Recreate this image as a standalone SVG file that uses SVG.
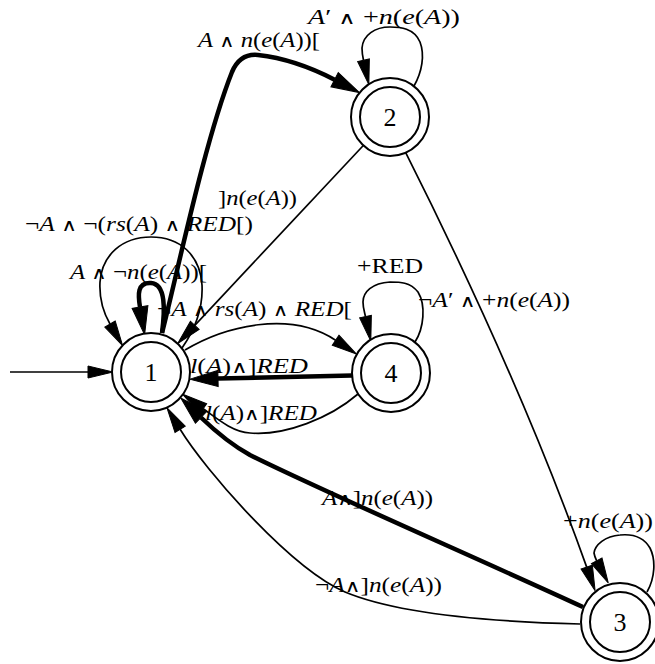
<svg xmlns="http://www.w3.org/2000/svg" width="655" height="664" viewBox="0 0 655 664">
<style>
.e{fill:none;stroke:#000;stroke-width:1.7}
.t{fill:none;stroke:#000;stroke-width:4.5}
.n circle{fill:#fff;stroke:#000;stroke-width:2}
.n text{font-family:"Liberation Serif",serif;font-size:26px;text-anchor:middle}
.l{font-family:"Liberation Serif",serif;font-size:20px;font-style:italic}
.l tspan.u{font-style:normal}
.l tspan.o{font-style:normal;font-family:"DejaVu Serif",serif;font-size:17px}
</style>
<defs>
<marker id="a" markerUnits="userSpaceOnUse" markerWidth="30" markerHeight="16" refX="0" refY="8" orient="auto" overflow="visible"><path d="M0,2 L25,8 L0,14 z" fill="#000" stroke="#000" stroke-width="1"/></marker>
<marker id="b" markerUnits="userSpaceOnUse" markerWidth="32" markerHeight="20" refX="0" refY="10" orient="auto" overflow="visible"><path d="M0,2 L28,10 L0,18 z" fill="#000" stroke="#000" stroke-width="1"/></marker>
</defs>
<g id="edges">
<path class="e" d="M10,372 L88,372" marker-end="url(#a)"/>
<path class="t" d="M162,333 C178,270 205,140 232,72 C238,58 248,54 258,55 C285,58 312,68 334.6,79.7" marker-end="url(#b)"/>
<path class="e" d="M414,86 C422,72 425,55 420,42 C414,28 400,27 390,27 C375,27 363,35 362,48 C362,53 362.8,57 363.5,60.2" marker-end="url(#a)"/>
<path class="e" d="M363.3,145.5 L194.8,325.3" marker-end="url(#a)"/>
<path class="e" d="M405.7,152.7 Q520,380 586.7,567.1" marker-end="url(#a)"/>
<path class="e" d="M647,592 C655,578 656,560 650,548 C643,536 630,534 620,535 C605,536 595,545 594,553 C594.5,556 595.5,558.5 596.7,560.8" marker-end="url(#a)"/>
<path class="t" d="M162,333 C165,310 166,284 151,283 C137,282 138,295 140,307" marker-end="url(#b)"/>
<path class="e" d="M182,348 C198,325 203,305 202,285 C200,255 180,237 151,237 C122,237 102,255 100,282 C99,300 103,312 110,324" marker-end="url(#a)"/>
<path class="e" d="M185,350 C225,326 290,310 335.6,340.2" marker-end="url(#a)"/>
<path class="e" d="M415,342 C424,328 426,305 418,292 C410,282 400,282 390,282 C372,283 363,292 363,302 C363,308 364.5,312 365.5,316.6" marker-end="url(#a)"/>
<path class="t" d="M352,375.5 L218,378.5" marker-end="url(#b)"/>
<path class="e" d="M358,394 C330,418 285,436 250,433 C232,432 215,417 203.2,408.7" marker-end="url(#a)"/>
<path class="t" d="M583,607 C470,555 320,490 250,455 C230,444 214,430 201,417.5" marker-end="url(#b)"/>
<path class="e" d="M580,624 C500,622 400,615 345,592 C290,568 205,470 180.1,429.3" marker-end="url(#a)"/>
</g>
<g id="labels" class="l">
<text x="308" y="24" textLength="152" lengthAdjust="spacingAndGlyphs">A<tspan class="u">′ </tspan><tspan class="o">∧</tspan><tspan class="u"> +</tspan>n<tspan class="u">(</tspan>e<tspan class="u">(</tspan>A<tspan class="u">))</tspan></text>
<text x="198" y="47" textLength="122" lengthAdjust="spacingAndGlyphs">A<tspan class="u"> </tspan><tspan class="o">∧</tspan><tspan class="u"> </tspan>n<tspan class="u">(</tspan>e<tspan class="u">(</tspan>A<tspan class="u">))[</tspan></text>
<text x="218" y="205" textLength="79" lengthAdjust="spacingAndGlyphs"><tspan class="u">]</tspan>n<tspan class="u">(</tspan>e<tspan class="u">(</tspan>A<tspan class="u">))</tspan></text>
<text x="25" y="231" textLength="228" lengthAdjust="spacingAndGlyphs"><tspan class="u">¬</tspan>A<tspan class="u"> </tspan><tspan class="o">∧</tspan><tspan class="u"> ¬(</tspan>rs<tspan class="u">(</tspan>A<tspan class="u">) </tspan><tspan class="o">∧</tspan><tspan class="u"> </tspan>RED<tspan class="u">[)</tspan></text>
<text x="70" y="279" textLength="137" lengthAdjust="spacingAndGlyphs">A<tspan class="u"> </tspan><tspan class="o">∧</tspan><tspan class="u"> ¬</tspan>n<tspan class="u">(</tspan>e<tspan class="u">(</tspan>A<tspan class="u">))[</tspan></text>
<text x="157" y="316" textLength="195" lengthAdjust="spacingAndGlyphs"><tspan class="u">¬</tspan>A<tspan class="u"> </tspan><tspan class="o">∧</tspan><tspan class="u"> </tspan>rs<tspan class="u">(</tspan>A<tspan class="u">) </tspan><tspan class="o">∧</tspan><tspan class="u"> </tspan>RED<tspan class="u">[</tspan></text>
<text x="357" y="273" textLength="66" lengthAdjust="spacingAndGlyphs" style="font-style:normal;font-size:22px">+RED</text>
<text x="418" y="307" textLength="152" lengthAdjust="spacingAndGlyphs"><tspan class="u">¬</tspan>A<tspan class="u">′ </tspan><tspan class="o">∧</tspan><tspan class="u"> +</tspan>n<tspan class="u">(</tspan>e<tspan class="u">(</tspan>A<tspan class="u">))</tspan></text>
<text x="190" y="373" textLength="118" lengthAdjust="spacingAndGlyphs">l<tspan class="u">(</tspan>A<tspan class="u">)</tspan><tspan class="o">∧</tspan><tspan class="u">]</tspan>RED</text>
<text x="205" y="420" textLength="112" lengthAdjust="spacingAndGlyphs">l<tspan class="u">(</tspan>A<tspan class="u">)</tspan><tspan class="o">∧</tspan><tspan class="u">]</tspan>RED</text>
<text x="322" y="505" textLength="111" lengthAdjust="spacingAndGlyphs">A<tspan class="o">∧</tspan><tspan class="u">]</tspan>n<tspan class="u">(</tspan>e<tspan class="u">(</tspan>A<tspan class="u">))</tspan></text>
<text x="315" y="592" textLength="127" lengthAdjust="spacingAndGlyphs"><tspan class="u">¬</tspan>A<tspan class="o">∧</tspan><tspan class="u">]</tspan>n<tspan class="u">(</tspan>e<tspan class="u">(</tspan>A<tspan class="u">))</tspan></text>
<text x="563" y="528" textLength="90" lengthAdjust="spacingAndGlyphs"><tspan class="u">+</tspan>n<tspan class="u">(</tspan>e<tspan class="u">(</tspan>A<tspan class="u">))</tspan></text>
</g>
<g id="node1" class="n"><circle cx="151" cy="372" r="39"/><circle cx="151" cy="372" r="30"/><text x="151" y="381">1</text></g>
<g id="node2" class="n"><circle cx="390" cy="117" r="39"/><circle cx="390" cy="117" r="30"/><text x="390" y="126">2</text></g>
<g id="node4" class="n"><circle cx="391" cy="373" r="39"/><circle cx="391" cy="373" r="30"/><text x="391" y="382">4</text></g>
<g id="node3" class="n"><circle cx="620" cy="622" r="39"/><circle cx="620" cy="622" r="30"/><text x="620" y="631">3</text></g>
</svg>
